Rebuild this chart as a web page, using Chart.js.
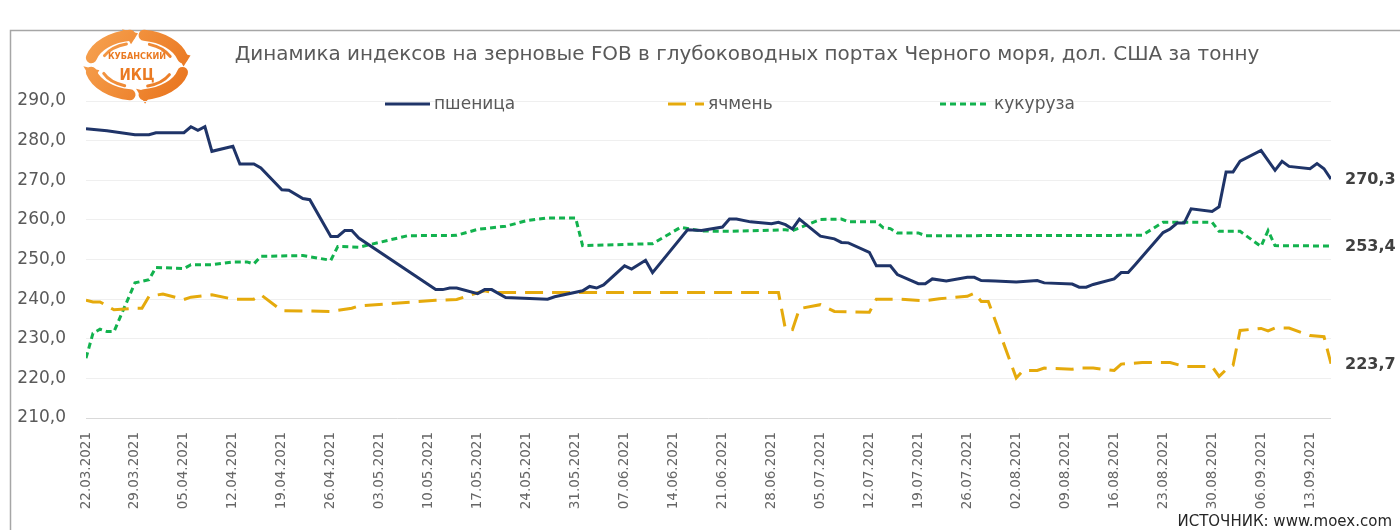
<!DOCTYPE html>
<html>
<head>
<meta charset="utf-8">
<script src="https://cdn.jsdelivr.net/npm/chart.js@4.4.0/dist/chart.umd.min.js"></script>
<style>
  html, body { margin: 0; padding: 0; background: #fff; }
</style>
</head>
<body>
<canvas id="grainChart" width="1400" height="530"></canvas>
<script>
// weekly axis labels
var tickLabels = ['22.03.2021', '29.03.2021', '05.04.2021', '12.04.2021', '19.04.2021', '26.04.2021',
  '03.05.2021', '10.05.2021', '17.05.2021', '24.05.2021', '31.05.2021', '07.06.2021', '14.06.2021',
  '21.06.2021', '28.06.2021', '05.07.2021', '12.07.2021', '19.07.2021', '26.07.2021', '02.08.2021',
  '09.08.2021', '16.08.2021', '23.08.2021', '30.08.2021', '06.09.2021', '13.09.2021'];

var seriesNames = ['пшеница', 'ячмень', 'кукуруза'];

// пшеница
var wheatDates = ['22.03','25.03','29.03','31.03','01.04','05.04','06.04','07.04','08.04','09.04',
  '12.04','13.04','15.04','16.04','19.04','20.04','22.04','23.04','26.04','27.04','28.04','29.04','30.04',
  '11.05','12.05','13.05','14.05','17.05','18.05','19.05','21.05','27.05','28.05','01.06','02.06','03.06',
  '04.06','07.06','08.06','10.06','11.06','16.06','18.06','21.06','22.06','23.06','25.06','28.06','29.06',
  '30.06','01.07','02.07','05.07','07.07','08.07','09.07','12.07','13.07','15.07','16.07','19.07','20.07',
  '21.07','23.07','26.07','27.07','28.07','30.07','02.08','05.08','06.08','10.08','11.08','12.08','13.08',
  '16.08','17.08','18.08','19.08','23.08','24.08','25.08','26.08','27.08','30.08','31.08','01.09','02.09',
  '03.09','06.09','08.09','09.09','10.09','13.09','14.09','15.09','16.09'];
var wheatValues = [283.0,282.5,281.5,281.5,282.0,282.0,283.5,282.6,283.5,277.3,
  278.6,274.1,274.1,273.1,267.6,267.5,265.4,265.1,255.8,255.8,257.3,257.3,255.4,
  242.4,242.4,242.8,242.8,241.4,242.4,242.4,240.4,240.0,240.6,242.1,243.2,242.8,
  243.6,248.4,247.6,249.8,246.7,257.5,257.3,258.2,260.2,260.2,259.5,259.0,259.4,
  258.8,257.7,260.2,255.9,255.2,254.3,254.2,251.8,248.4,248.4,246.2,243.9,243.9,
  245.1,244.6,245.5,245.5,244.7,244.6,244.3,244.7,244.1,243.8,243.0,243.0,243.7,
  245.1,246.7,246.7,248.7,256.8,257.7,259.2,259.2,262.8,262.1,263.3,272.1,272.1,
  274.8,277.5,272.5,274.8,273.5,272.9,274.2,272.9,270.3];

// ячмень
var barleyDates = ['22.03','23.03','24.03','26.03','29.03','30.03','31.03','02.04','05.04','06.04',
  '09.04','12.04','15.04','16.04','19.04','26.04','29.04','30.04','11.05','14.05','17.05','18.05','19.05',
  '29.06','30.06','01.07','02.07','05.07','07.07','12.07','13.07','16.07','20.07','22.07','26.07','27.07',
  '28.07','29.07','02.08','03.08','05.08','06.08','10.08','11.08','13.08','16.08','17.08','20.08','24.08',
  '26.08','30.08','31.08','01.09','02.09','03.09','06.09','07.09','08.09','10.09','13.09','15.09','16.09'];
var barleyValues = [239.7,239.3,239.3,237.3,237.7,237.7,240.7,241.3,239.9,240.5,
  241.1,240.0,240.0,241.1,237.1,236.9,237.7,238.3,239.7,239.9,241.6,242.1,241.7,
  241.7,232.4,232.3,237.6,238.6,236.9,236.7,240.0,240.0,239.6,240.1,240.7,241.5,
  239.4,239.4,220.1,222.0,222.0,222.6,222.3,222.6,222.6,222.0,223.6,224.0,224.0,
  223.0,223.0,220.5,222.2,223.3,232.1,232.6,232.0,232.7,232.7,230.8,230.5,223.7];

// кукуруза
var cornDates = ['22.03','23.03','24.03','25.03','26.03','29.03','30.03','31.03','01.04','05.04',
  '06.04','09.04','12.04','14.04','15.04','16.04','22.04','26.04','27.04','30.04','07.05','14.05','17.05',
  '21.05','24.05','27.05','31.05','01.06','11.06','15.06','18.06','22.06','30.06','01.07','05.07','08.07',
  '09.07','13.07','14.07','15.07','16.07','19.07','20.07','20.08','23.08','30.08','31.08','03.09','06.09',
  '07.09','08.09','16.09'];
var cornValues = [225.1,231.4,232.4,231.8,231.8,244.1,244.5,244.9,248.0,247.7,
  248.7,248.7,249.4,249.4,248.9,250.8,251.0,249.8,253.3,253.1,256.0,256.1,257.6,
  258.4,259.8,260.5,260.5,253.5,254.0,258.1,257.2,257.1,257.5,257.3,260.1,260.2,
  259.5,259.5,258.0,257.8,256.7,256.7,256.0,256.1,259.4,259.4,257.1,257.1,253.3,
  257.3,253.5,253.4];

// days counted from the first date on the axis
function dayOffset(s) {
  var p = s.split('.');
  var year = p[2] ? +p[2] : 2021;
  var t = Date.UTC(year, +p[1] - 1, +p[0]);
  return Math.round((t - Date.UTC(2021, 2, 22)) / 86400000);
}

function toPoints(dates, values) {
  return dates.map(function(d, i) { return { x: dayOffset(d), y: values[i] }; });
}

function fmt(v) {
  return v.toFixed(1).replace('.', ',');
}

Chart.defaults.font.family = '"DejaVu Sans", sans-serif';
Chart.defaults.color = '#595959';

function drawLogo(ctx) {
  ctx.save();
  ctx.translate(137, 65);
  ctx.lineCap = 'round';
  var grad = ctx.createLinearGradient(-55, -35, 55, 35);
  grad.addColorStop(0, '#f7a452');
  grad.addColorStop(1, '#e8711a');
  ctx.strokeStyle = grad;
  ctx.fillStyle = grad;
  var arcs = [[-2.9, -1.72], [-1.42, -0.25], [0.25, 1.42], [1.72, 2.9]];
  arcs.forEach(function(a) {
    ctx.lineWidth = 11;
    ctx.beginPath();
    ctx.ellipse(0, 0, 47, 30, 0, a[0], a[1]);
    ctx.stroke();
    ctx.lineWidth = 3;
    ctx.beginPath();
    ctx.ellipse(0, 0, 36, 22, 0, a[0] + 0.2, a[1] - 0.15);
    ctx.stroke();
  });
  // arrow heads
  [-1.72, -0.25, 1.42, 2.9].forEach(function(t) {
    var x = 47 * Math.cos(t), y = 30 * Math.sin(t);
    ctx.beginPath();
    ctx.moveTo(x - 8, y - 6);
    ctx.lineTo(x + 8, y - 2);
    ctx.lineTo(x + 1, y + 9);
    ctx.closePath();
    ctx.fill();
  });
  ctx.fillStyle = '#ea7a22';
  ctx.textAlign = 'center';
  ctx.textBaseline = 'middle';
  ctx.font = 'bold 9px "DejaVu Sans Condensed", "DejaVu Sans"';
  ctx.fillText('КУБАНСКИЙ', 0, -8);
  ctx.font = 'bold 15px "DejaVu Sans Condensed", "DejaVu Sans"';
  ctx.fillText('ИКЦ', 0, 11);
  ctx.restore();
}

var decorPlugin = {
  id: 'decor',
  beforeDraw: function(chart) {
    var ctx = chart.ctx;
    ctx.save();
    ctx.fillStyle = '#ffffff';
    ctx.fillRect(0, 0, chart.width, chart.height);
    // chart frame
    ctx.strokeStyle = '#a6a6a6';
    ctx.lineWidth = 1.5;
    ctx.beginPath();
    ctx.moveTo(10.5, chart.height);
    ctx.lineTo(10.5, 30.5);
    ctx.lineTo(chart.width, 30.5);
    ctx.stroke();
    // title
    var title = 'Динамика индексов на зерновые FOB в глубоководных портах Черного моря, дол. США за тонну';
    ctx.font = '20px "DejaVu Sans"';
    var size = 20 * 1025 / ctx.measureText(title).width;
    ctx.font = size.toFixed(2) + 'px "DejaVu Sans"';
    ctx.fillStyle = '#595959';
    ctx.textAlign = 'center';
    ctx.textBaseline = 'middle';
    ctx.fillText(title, 747, 55);
    ctx.restore();
    drawLogo(ctx);
  },
  afterDraw: function(chart) {
    var ctx = chart.ctx;
    ctx.save();
    // legend
    var legendPos = [[385, 45], [668, 36], [940, 50]];
    ctx.textBaseline = 'middle';
    ctx.textAlign = 'left';
    chart.data.datasets.forEach(function(ds, i) {
      var lx = legendPos[i][0], lw = legendPos[i][1], ly = 104;
      ctx.strokeStyle = ds.borderColor;
      ctx.lineWidth = ds.borderWidth;
      ctx.setLineDash(ds.borderDash || []);
      ctx.beginPath();
      ctx.moveTo(lx, ly);
      ctx.lineTo(lx + lw, ly);
      ctx.stroke();
      ctx.setLineDash([]);
      ctx.fillStyle = '#595959';
      ctx.font = '17px "DejaVu Sans"';
      ctx.fillText(ds.label, lx + lw + 4, ly + 1);
    });
    // last values at the right end
    var y = chart.scales.y;
    ctx.font = 'bold 16px "DejaVu Sans"';
    ctx.fillStyle = '#404040';
    chart.data.datasets.forEach(function(ds) {
      var last = ds.data[ds.data.length - 1];
      ctx.fillText(fmt(last.y), 1345, y.getPixelForValue(last.y) + 1);
    });
    // source
    ctx.font = '15px "DejaVu Sans"';
    ctx.fillStyle = '#262626';
    ctx.textAlign = 'right';
    ctx.fillText('ИСТОЧНИК: www.moex.com', 1392, 522);
    ctx.restore();
  }
};

var ctx = document.getElementById('grainChart');
var grainChart = new Chart(ctx, {
  type: 'line',
  data: {
    datasets: [{
      label: seriesNames[0],
      data: toPoints(wheatDates, wheatValues),
      borderColor: '#1f3468',
      borderWidth: 3,
      pointRadius: 0,
      tension: 0
    }, {
      label: seriesNames[1],
      data: toPoints(barleyDates, barleyValues),
      borderColor: '#e5aa0c',
      borderWidth: 3,
      borderDash: [18, 9],
      pointRadius: 0,
      tension: 0
    }, {
      label: seriesNames[2],
      data: toPoints(cornDates, cornValues),
      borderColor: '#12b24e',
      borderWidth: 3,
      borderDash: [6, 4],
      pointRadius: 0,
      tension: 0
    }]
  },
  options: {
    responsive: false,
    animation: false,
    layout: {
      padding: { left: 10, right: 69, top: 101, bottom: 0 }
    },
    plugins: {
      legend: { display: false },
      title: { display: false },
      tooltip: { enabled: false }
    },
    scales: {
      x: {
        type: 'linear',
        min: 0,
        max: 178,
        afterBuildTicks: function(scale) {
          scale.ticks = tickLabels.map(function(l) { return { value: dayOffset(l) }; });
        },
        afterFit: function(scale) { scale.height = 112; },
        grid: { display: false },
        border: { display: false },
        ticks: {
          autoSkip: false,
          minRotation: 90,
          maxRotation: 90,
          padding: 6,
          color: '#666666',
          font: { size: 13.5 },
          callback: function(value, index) { return tickLabels[index]; }
        }
      },
      y: {
        min: 210,
        max: 290,
        afterFit: function(scale) { scale.width = 76; },
        border: { display: false },
        grid: {
          drawTicks: false,
          color: function(c) { return c.tick && c.tick.value === 210 ? '#d9d9d9' : '#efefef'; }
        },
        ticks: {
          stepSize: 10,
          padding: 20,
          color: '#595959',
          font: { size: 17 },
          callback: function(v) { return fmt(v); }
        }
      }
    }
  },
  plugins: [decorPlugin]
});
</script>
</body>
</html>
